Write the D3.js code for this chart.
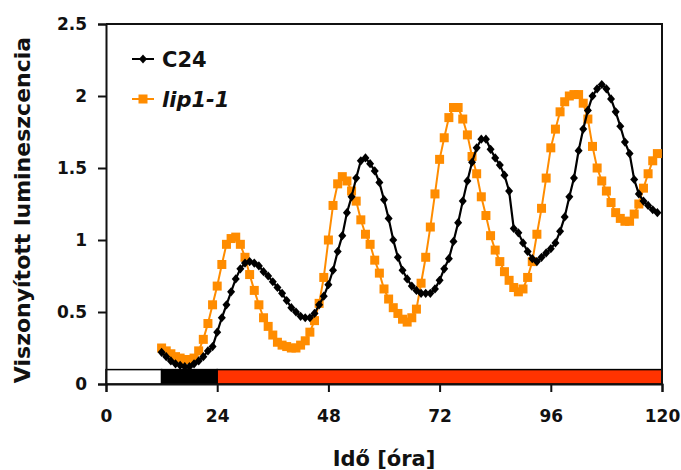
<!DOCTYPE html>
<html>
<head>
<meta charset="utf-8">
<script src="https://cdn.jsdelivr.net/npm/d3@7"></script>
<style>
  html, body { margin: 0; padding: 0; background: #fff; }
  svg { display: block; font-family: "DejaVu Sans", sans-serif; font-weight: bold; }
</style>
</head>
<body>
<svg id="chart" width="681" height="470"></svg>
<script>
// Sampling: one reading per hour from hour 12 to hour 119
const hours = d3.range(12, 120);

// C24 relative luminescence
const c24 = [
  0.22, 0.19, 0.16, 0.14, 0.13, 0.12, 0.12, 0.14, 0.16, 0.19,
  0.23, 0.26, 0.36, 0.46, 0.55, 0.64, 0.73, 0.80, 0.84, 0.85,
  0.84, 0.82, 0.78, 0.75, 0.71, 0.67, 0.63, 0.58, 0.53, 0.50,
  0.47, 0.46, 0.46, 0.49, 0.55, 0.61, 0.69, 0.79, 0.92, 1.03,
  1.19, 1.30, 1.43, 1.55, 1.57, 1.53, 1.48, 1.40, 1.28, 1.15,
  1.00, 0.88, 0.79, 0.73, 0.68, 0.65, 0.63, 0.63, 0.63, 0.66,
  0.72, 0.80, 0.87, 0.99, 1.12, 1.27, 1.41, 1.54, 1.64, 1.70,
  1.70, 1.63, 1.57, 1.52, 1.45, 1.34, 1.08, 1.05, 0.98, 0.92,
  0.87, 0.85, 0.88, 0.91, 0.94, 0.98, 1.06, 1.16, 1.30, 1.43,
  1.62, 1.77, 1.90, 2.00, 2.05, 2.08, 2.05, 1.98, 1.89, 1.79,
  1.68, 1.60, 1.42, 1.32, 1.27, 1.24, 1.21, 1.19
];

// lip1-1 relative luminescence
const lip11 = [
  0.25, 0.23, 0.21, 0.19, 0.18, 0.17, 0.17, 0.18, 0.23, 0.31,
  0.42, 0.55, 0.68, 0.83, 0.97, 1.01, 1.02, 0.97, 0.88, 0.76,
  0.65, 0.55, 0.46, 0.40, 0.34, 0.29, 0.27, 0.26, 0.25, 0.25,
  0.27, 0.30, 0.36, 0.44, 0.56, 0.74, 1.00, 1.24, 1.39, 1.44,
  1.41, 1.34, 1.27, 1.14, 1.04, 0.97, 0.86, 0.77, 0.66, 0.59,
  0.53, 0.49, 0.45, 0.43, 0.46, 0.52, 0.70, 0.88, 1.09, 1.32,
  1.56, 1.71, 1.85, 1.92, 1.92, 1.84, 1.73, 1.58, 1.46, 1.30,
  1.17, 1.03, 0.93, 0.85, 0.78, 0.72, 0.67, 0.64, 0.66, 0.74,
  0.85, 1.04, 1.22, 1.43, 1.64, 1.77, 1.89, 1.96, 2.00, 2.01,
  2.01, 1.95, 1.84, 1.65, 1.50, 1.41, 1.34, 1.26, 1.19, 1.15,
  1.13, 1.13, 1.18, 1.25, 1.36, 1.46, 1.55, 1.60
];

// Light regime bar along the time axis: light, dark, then constant red light
const lightPeriods = [
  { start: 0, end: 12, fill: "#ffffff" },
  { start: 12, end: 24, fill: "#000000" },
  { start: 24, end: 120, fill: "#ff3300" }
];
const lightBarHeight = 0.1;

const xTicks = [0, 24, 48, 72, 96, 120];
const yTicks = [0, 0.5, 1, 1.5, 2, 2.5];
const seriesNames = ["C24", "lip1-1"];

const svg = d3.select("#chart");
const x = d3.scaleLinear().domain([0, 120]).range([106, 662]);
const y = d3.scaleLinear().domain([0, 2.5]).range([384, 24]);

// Light regime bar
svg.append("g").selectAll("rect").data(lightPeriods).join("rect")
  .attr("x", d => x(d.start))
  .attr("y", y(lightBarHeight))
  .attr("width", d => x(d.end) - x(d.start))
  .attr("height", y(0) - y(lightBarHeight))
  .attr("fill", d => d.fill)
  .attr("stroke", "#000")
  .attr("stroke-width", 1.5);

// Frame top and right
svg.append("path")
  .attr("d", `M${x(0)},${y(2.5)}H${x(120)}V${y(0)}`)
  .attr("fill", "none").attr("stroke", "#111").attr("stroke-width", 2);

// Axes
const xAxis = svg.append("g").attr("transform", `translate(0,${y(0)})`)
  .call(d3.axisBottom(x).tickValues(xTicks).tickSize(8).tickPadding(18).tickFormat(d3.format("d")));
const yAxis = svg.append("g").attr("transform", `translate(${x(0)},0)`)
  .call(d3.axisLeft(y).tickValues(yTicks).tickSize(8).tickPadding(11).tickFormat(d => d3.format("")(d)));
[xAxis, yAxis].forEach(g => {
  g.select(".domain").attr("stroke", "#111").attr("stroke-width", 2);
  g.selectAll(".tick line").attr("stroke", "#111").attr("stroke-width", 2);
  g.selectAll(".tick text")
    .attr("fill", "#111")
    .style("font-family", "'DejaVu Sans', sans-serif")
    .style("font-weight", "bold")
    .style("font-size", "17px");
});
xAxis.selectAll(".tick text").attr("dy", "0.71em");

// Axis titles
svg.append("text")
  .attr("x", 384).attr("y", 466)
  .attr("text-anchor", "middle")
  .style("font-size", "21px")
  .attr("fill", "#111")
  .text("Idő [óra]");

svg.append("text")
  .attr("transform", "translate(30,210) rotate(-90)")
  .attr("text-anchor", "middle")
  .style("font-size", "22px")
  .attr("fill", "#111")
  .text("Viszonyított lumineszcencia");

// Series
const line = d3.line().x(d => x(d[0])).y(d => y(d[1]));
const lipData = hours.map((h, i) => [h, lip11[i]]);
const c24Data = hours.map((h, i) => [h, c24[i]]);

const orange = "#ff8c00";
const sq = 9;
const diamond = "M0,-4.6L4,0L0,4.6L-4,0Z";

svg.append("path").datum(lipData)
  .attr("d", line).attr("fill", "none")
  .attr("stroke", orange).attr("stroke-width", 2);
svg.append("g").selectAll("rect").data(lipData).join("rect")
  .attr("x", d => x(d[0]) - sq / 2).attr("y", d => y(d[1]) - sq / 2)
  .attr("width", sq).attr("height", sq)
  .attr("fill", orange);

svg.append("path").datum(c24Data)
  .attr("d", line).attr("fill", "none")
  .attr("stroke", "#000").attr("stroke-width", 2.2);
svg.append("g").selectAll("path").data(c24Data).join("path")
  .attr("transform", d => `translate(${x(d[0])},${y(d[1])})`)
  .attr("d", diamond)
  .attr("fill", "#000");

// Legend
const legend = svg.append("g");
const legendRows = [
  { name: seriesNames[0], color: "#000", marker: "diamond", y: 59, italic: false },
  { name: seriesNames[1], color: orange, marker: "square", y: 99, italic: true }
];
legendRows.forEach(r => {
  legend.append("line")
    .attr("x1", 132).attr("x2", 154).attr("y1", r.y).attr("y2", r.y)
    .attr("stroke", r.color).attr("stroke-width", 2);
  if (r.marker === "diamond") {
    legend.append("path").attr("transform", `translate(143,${r.y})`)
      .attr("d", diamond).attr("fill", r.color);
  } else {
    legend.append("rect").attr("x", 143 - sq / 2).attr("y", r.y - sq / 2)
      .attr("width", sq).attr("height", sq).attr("fill", r.color);
  }
  legend.append("text")
    .attr("x", 162).attr("y", r.y + 8)
    .style("font-size", "21px")
    .style("font-style", r.italic ? "italic" : "normal")
    .attr("fill", "#111")
    .text(r.name);
});
</script>
</body>
</html>
